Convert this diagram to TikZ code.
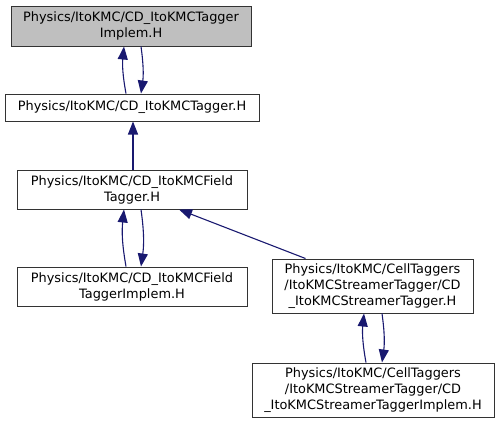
\documentclass[tikz,border=0pt]{standalone}
\usepackage{fontspec}
\setmainfont{DejaVu Sans}
\usetikzlibrary{arrows.meta}
\definecolor{edgeblue}{HTML}{191970}

\begin{document}
\begin{tikzpicture}[x=1pt, y=-1pt,
  file/.style={draw=black!80, line width=1pt, align=center, inner sep=0pt,
    font=\fontsize{12.9}{16}\selectfont},
  inc/.style={draw=edgeblue, line width=1.1pt, -{Triangle[length=13pt, width=10pt]}}]
\useasboundingbox (0,0) rectangle (499,424);
% one row of boxes per rank
\node[file, fill=black!25, minimum width=240pt, minimum height=40pt] (implem) at (131,26)
  {Physics/ItoKMC/CD\_ItoKMCTagger\\Implem.H};
\node[file, minimum width=254pt, minimum height=27pt] (tagger) at (132,107.5)
  {Physics/ItoKMC/CD\_ItoKMCTagger.H};
\node[file, minimum width=230pt, minimum height=39pt] (field) at (132,189.5)
  {Physics/ItoKMC/CD\_ItoKMCField\\Tagger.H};
\node[file, minimum width=230pt, minimum height=39pt] (fimplem) at (132,286.5)
  {Physics/ItoKMC/CD\_ItoKMCField\\TaggerImplem.H};
\node[file, minimum width=201pt, minimum height=54pt] (streamer) at (372.5,286)
  {Physics/ItoKMC/CellTaggers\\/ItoKMCStreamerTagger/CD\\\_ItoKMCStreamerTagger.H};
\node[file, minimum width=242pt, minimum height=54pt] (simplem) at (373,390)
  {Physics/ItoKMC/CellTaggers\\/ItoKMCStreamerTagger/CD\\\_ItoKMCStreamerTaggerImplem.H};
% include edges
\draw[inc] ([xshift=-6pt]tagger.north) to[bend left=8] ([xshift=-7pt]implem.south);
\draw[inc] ([xshift=10pt]implem.south) to[bend left=8] ([xshift=9pt]tagger.north);
\draw[inc] ([xshift=1pt]field.north) -- ([xshift=1pt]tagger.south);
\draw[inc] ([xshift=-6pt]fimplem.north) to[bend left=8] ([xshift=-8pt]field.south);
\draw[inc] ([xshift=9pt]field.south) to[bend left=8] ([xshift=9pt]fimplem.north);
\draw[inc] ([xshift=-67pt]streamer.north) -- ([xshift=47pt]field.south);
\draw[inc] ([xshift=-7pt]simplem.north) to[bend left=8] ([xshift=-8.5pt]streamer.south);
\draw[inc] ([xshift=9.5pt]streamer.south) to[bend left=8] ([xshift=9pt]simplem.north);
\end{tikzpicture}
\end{document}
